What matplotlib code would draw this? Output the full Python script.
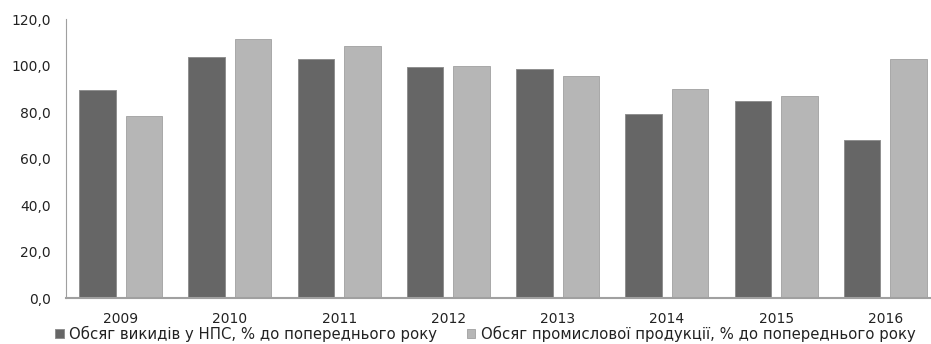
#!/usr/bin/env python3
import matplotlib
matplotlib.use('Agg')
import matplotlib.pyplot as plt
import numpy as np

years = ['2009', '2010', '2011', '2012', '2013', '2014', '2015', '2016']
emissions = [89.3, 103.7, 103.0, 99.4, 98.7, 79.3, 84.6, 67.9]
production = [78.1, 111.6, 108.3, 99.6, 95.7, 90.1, 87.0, 103.0]
labels = ['Обсяг викидів у НПС, % до попереднього року',
          'Обсяг промислової продукції, % до попереднього року']

plt.rcParams['font.family'] = 'DejaVu Sans'

fig = plt.figure(figsize=(9.31, 3.44), dpi=100)
# axes run a little past the right edge, as in the cropped original
ax = fig.add_axes([0.0709, 0.1337, 0.9388, 0.811])

x = np.arange(len(years))
w = 0.335
ax.bar(x - 0.213, emissions, w, color='#666666', edgecolor='#8f8f8f',
       linewidth=0.7, label=labels[0])
ax.bar(x + 0.213, production, w, color='#b6b6b6', edgecolor='#a8a8a8',
       linewidth=0.7, label=labels[1])

ax.set_xlim(-0.5, len(years) - 0.5)
ax.set_ylim(0, 120)
ticks = np.arange(0, 121, 20)
ax.set_yticks(ticks)
ax.set_yticklabels([('%.1f' % v).replace('.', ',') for v in ticks])
ax.set_xticks(x)
ax.set_xticklabels(years)
ax.tick_params(axis='both', length=0, labelsize=10, colors='#222222')
ax.tick_params(axis='y', pad=11)
ax.tick_params(axis='x', pad=10)

for s in ['top', 'right']:
    ax.spines[s].set_visible(False)
ax.spines['left'].set_color('#a0a0a0')
ax.spines['bottom'].set_color('#a0a0a0')
ax.spines['bottom'].set_linewidth(1.5)

fig.legend(loc='center', bbox_to_anchor=(0.521, 0.03), ncol=2, frameon=False,
           fontsize=10.7, handlelength=0.6, handleheight=0.6, handletextpad=0.35,
           columnspacing=2.0, borderpad=0, labelcolor='#222222')

fig.savefig('out.png', dpi=100)
